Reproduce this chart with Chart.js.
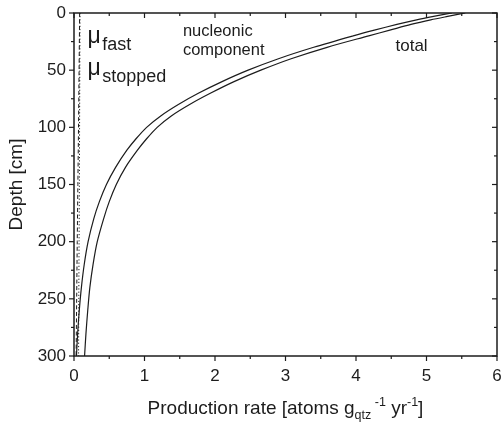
<!DOCTYPE html>
<html>
<head>
<meta charset="utf-8">
<script src="https://cdn.jsdelivr.net/npm/chart.js@4.4.1/dist/chart.umd.min.js"></script>
<style>
  html, body { margin: 0; padding: 0; background: #fff; }
  #wrap { width: 502px; height: 426px; }
</style>
</head>
<body>
<div id="wrap"><canvas id="c" width="502" height="426"></canvas></div>
<script>
// Depth profile of in-situ production (depth in cm, rate in atoms g_qtz^-1 yr^-1)
const depths = [0, 3, 6, 10, 15, 20, 30, 40, 50, 60, 70, 80, 90, 100, 110, 120, 135, 150, 165, 180, 200, 220, 240, 260, 280, 300];
const nucleonic = [5.36, 5.10, 4.86, 4.58, 4.26, 3.96, 3.40, 2.90, 2.47, 2.10, 1.77, 1.48, 1.23, 1.03, 0.88, 0.75, 0.59, 0.46, 0.36, 0.28, 0.20, 0.145, 0.105, 0.075, 0.052, 0.035];
const total =     [5.55, 5.30, 5.06, 4.78, 4.48, 4.18, 3.59, 3.08, 2.65, 2.27, 1.94, 1.64, 1.38, 1.18, 1.03, 0.90, 0.73, 0.60, 0.50, 0.42, 0.33, 0.27, 0.225, 0.195, 0.17, 0.15];

const muonDepths = [0, 50, 100, 150, 200, 250, 300];
const muFast =     [0.080, 0.072, 0.064, 0.055, 0.046, 0.038, 0.030];
const muStopped =  [0.085, 0.082, 0.079, 0.076, 0.072, 0.068, 0.065];

const xRange = [0, 6];
const yRange = [0, 300];
const xStep = 1, xMinorStep = 0.5;
const yStep = 50, yMinorStep = 25;

const ink = '#1c1c1c';
const family = '"Liberation Sans", Arial, sans-serif';

function pts(xs, ds) { return ds.map((d, i) => ({ x: xs[i], y: d })); }

// Frame, mirrored ticks, axis titles and curve labels
const decorations = {
  id: 'decorations',
  afterDraw(chart) {
    const { ctx, chartArea: a, scales: { x, y } } = chart;
    ctx.save();
    ctx.strokeStyle = ink;
    ctx.fillStyle = ink;

    ctx.lineWidth = 1.5;
    ctx.strokeRect(a.left, a.top, a.right - a.left, a.bottom - a.top);

    ctx.lineWidth = 1.2;
    const seg = (x1, y1, x2, y2) => { ctx.beginPath(); ctx.moveTo(x1, y1); ctx.lineTo(x2, y2); ctx.stroke(); };
    for (let v = xRange[0]; v <= xRange[1] + 1e-9; v += xMinorStep) {
      const p = x.getPixelForValue(v);
      const major = Math.abs(v / xStep - Math.round(v / xStep)) < 1e-6;
      const L = major ? 5 : 3;
      seg(p, a.bottom, p, a.bottom + L);
      seg(p, a.top, p, a.top + L);
    }
    for (let d = yRange[0]; d <= yRange[1]; d += yMinorStep) {
      const p = y.getPixelForValue(d);
      const L = d % yStep === 0 ? 5 : 3;
      seg(a.left - L, p, a.left, p);
      seg(a.right - L, p, a.right, p);
    }

    // x-axis title with sub/superscripts
    const parts = [
      { t: 'Production rate [atoms g', f: 19, dy: 0 },
      { t: 'qtz', f: 12.5, dy: 5 },
      { t: ' -1', f: 12.5, dy: -8 },
      { t: ' yr', f: 19, dy: 0 },
      { t: '-1', f: 12.5, dy: -8 },
      { t: ']', f: 19, dy: 0 }
    ];
    let w = 0;
    parts.forEach(p => { ctx.font = p.f + 'px ' + family; p.w = ctx.measureText(p.t).width; w += p.w; });
    let cx = (a.left + a.right) / 2 - w / 2;
    const base = 414;
    ctx.textBaseline = 'alphabetic';
    ctx.textAlign = 'left';
    parts.forEach(p => { ctx.font = p.f + 'px ' + family; ctx.fillText(p.t, cx, base + p.dy); cx += p.w; });

    // y-axis title
    ctx.save();
    ctx.translate(22, (a.top + a.bottom) / 2);
    ctx.rotate(-Math.PI / 2);
    ctx.textAlign = 'center';
    ctx.font = '19px ' + family;
    ctx.fillText('Depth [cm]', 0, 0);
    ctx.restore();

    // curve labels, anchored in data coordinates
    ctx.textAlign = 'left';
    ctx.font = '16.5px ' + family;
    ctx.fillText('nucleonic', x.getPixelForValue(1.545), y.getPixelForValue(20.5));
    ctx.fillText('component', x.getPixelForValue(1.545), y.getPixelForValue(37));
    ctx.font = '17px ' + family;
    ctx.fillText('total', x.getPixelForValue(4.56), y.getPixelForValue(33.5));

    const mu = (sub, v, d) => {
      const px = x.getPixelForValue(v), py = y.getPixelForValue(d);
      ctx.font = '23px ' + family;
      ctx.fillText('\u03bc', px, py);
      const mw = ctx.measureText('\u03bc').width;
      ctx.font = '18px ' + family;
      ctx.fillText(sub, px + mw + 1.5, py + 7);
    };
    mu('fast', 0.19, 26.5);
    mu('stopped', 0.19, 54.5);

    ctx.restore();
  }
};

new Chart(document.getElementById('c'), {
  type: 'scatter',
  data: {
    datasets: [
      { label: 'nucleonic component', data: pts(nucleonic, depths), showLine: true, borderColor: ink, borderWidth: 1.2, pointRadius: 0, tension: 0.3 },
      { label: 'total', data: pts(total, depths), showLine: true, borderColor: ink, borderWidth: 1.2, pointRadius: 0, tension: 0.3 },
      { label: 'mu fast', data: pts(muFast, muonDepths), showLine: true, borderColor: ink, borderWidth: 1, borderDash: [4, 2.5], pointRadius: 0, tension: 0.3 },
      { label: 'mu stopped', data: pts(muStopped, muonDepths), showLine: true, borderColor: ink, borderWidth: 1, borderDash: [1.2, 2], pointRadius: 0, tension: 0.3 }
    ]
  },
  options: {
    responsive: false,
    devicePixelRatio: 1,
    animation: false,
    layout: { padding: { top: 13, right: 5, left: 0, bottom: 0 } },
    plugins: { legend: { display: false }, tooltip: { enabled: false } },
    scales: {
      x: {
        type: 'linear', min: xRange[0], max: xRange[1],
        grid: { display: false, drawTicks: false, tickLength: 0 },
        border: { display: false },
        ticks: { stepSize: xStep, padding: 10, color: ink, font: { family: family, size: 17 } },
        afterFit(s) { s.height = 70; s.paddingLeft = 0; s.paddingRight = 0; }
      },
      y: {
        type: 'linear', reverse: true, min: yRange[0], max: yRange[1],
        grid: { display: false, drawTicks: false, tickLength: 0 },
        border: { display: false },
        ticks: { stepSize: yStep, padding: 8, color: ink, font: { family: family, size: 17 } },
        afterFit(s) { s.width = 74; s.paddingTop = 0; s.paddingBottom = 0; }
      }
    }
  },
  plugins: [decorations]
});
</script>
</body>
</html>
